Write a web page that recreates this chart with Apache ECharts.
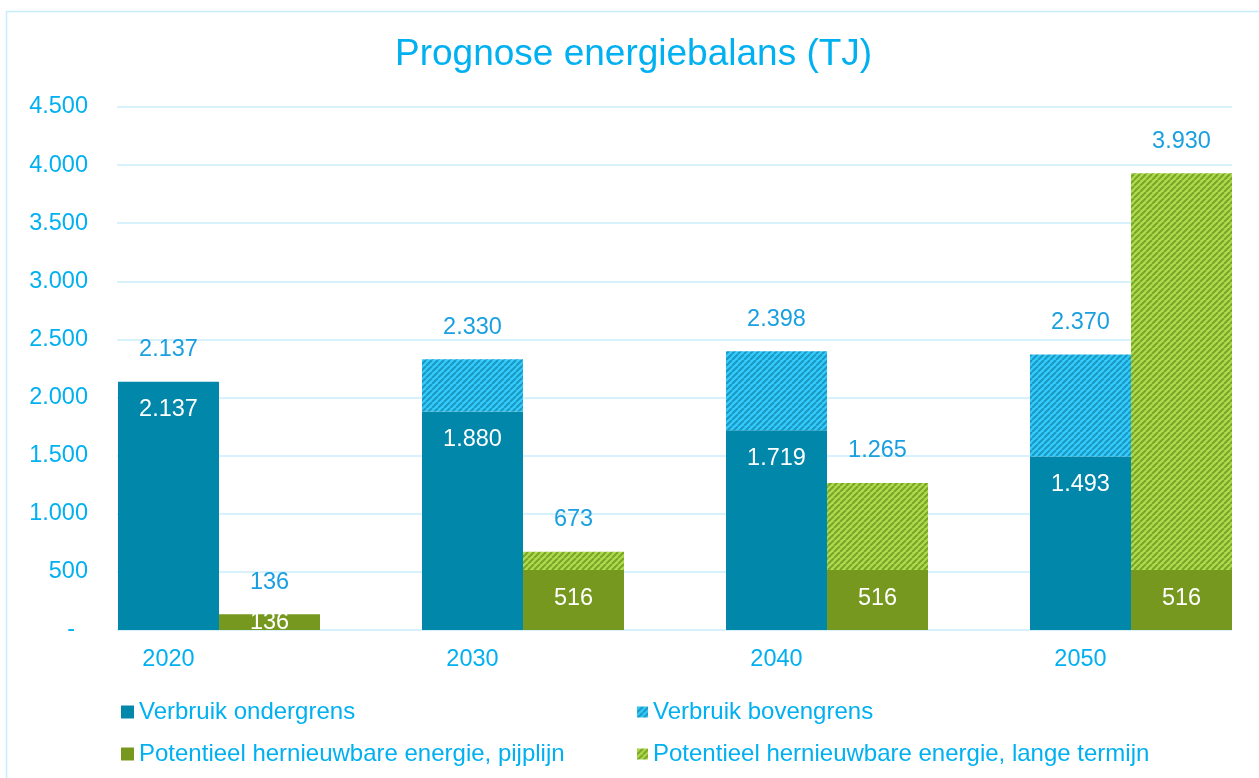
<!DOCTYPE html>
<html>
<head>
<meta charset="utf-8">
<script src="https://cdn.jsdelivr.net/npm/echarts@6/dist/echarts.min.js"></script>
<style>
html,body{margin:0;padding:0;background:#fff;}
#chart{width:1259px;height:778px;}
</style>
</head>
<body>
<div id="chart"></div>
<script>
// ---- data ----
const categories = ['2020', '2030', '2040', '2050'];
const verbruikOndergrens = [2137, 1880, 1719, 1493];
const verbruikBovengrensTotaal = [2137, 2330, 2398, 2370];
const pijplijn = [136, 516, 516, 516];
const langeTermijnTotaal = [136, 673, 1265, 3930];
const yMin = 0, yMax = 4500, yStep = 500;
const seriesNames = [
  'Verbruik ondergrens',
  'Verbruik bovengrens',
  'Potentieel hernieuwbare energie, pijplijn',
  'Potentieel hernieuwbare energie, lange termijn'
];

// ---- helpers ----
const FONT = '"Liberation Sans", Arial, sans-serif';
const TXT = '#00B0F0';
const LBL = '#1A9FE0';
function fmt(v) {
  if (v === 0) return '-';
  return String(v).replace(/\B(?=(\d{3})+(?!\d))/g, '.');
}
function hatch(base, line) {
  const c = document.createElement('canvas');
  c.width = 6; c.height = 6;
  const g = c.getContext('2d');
  g.fillStyle = base; g.fillRect(0, 0, 6, 6);
  g.strokeStyle = line; g.lineWidth = 2;
  for (let x0 = -6; x0 <= 6; x0 += 6) {
    g.beginPath(); g.moveTo(x0, 6); g.lineTo(x0 + 6, 0); g.stroke();
  }
  return { image: c, repeat: 'repeat' };
}
const bovenExtra = verbruikBovengrensTotaal.map((t, i) => t - verbruikOndergrens[i]);
const langeExtra = langeTermijnTotaal.map((t, i) => t - pijplijn[i]);

function insideData(arr) {
  return arr.map(v => v < 300
    ? { value: v, label: { position: 'inside', distance: 0 } }
    : { value: v });
}

const chart = echarts.init(document.getElementById('chart'), null, { renderer: 'canvas' });
const insideLabel = {
  show: true, position: 'insideTop', distance: 16,
  color: '#ffffff', fontFamily: FONT, fontSize: 23.5,
  formatter: p => fmt(p.value)
};
const option = {
  animation: false,
  backgroundColor: '#ffffff',
  textStyle: { fontFamily: FONT },
  graphic: [{
    type: 'rect', z: -10, silent: true,
    shape: { x: 6.5, y: 11.5, width: 1400, height: 900 },
    style: { fill: 'none', stroke: '#C8EDFC', lineWidth: 1.5 }
  }],
  title: {
    text: 'Prognose energiebalans (TJ)',
    left: 390, top: 31,
    textStyle: { color: TXT, fontFamily: FONT, fontSize: 37, fontWeight: 'normal' }
  },
  legend: [{
    data: [seriesNames[0], seriesNames[2]],
    orient: 'vertical', left: 121, top: 700, padding: 0,
    icon: 'rect', itemWidth: 13, itemHeight: 13, itemGap: 18,
    textStyle: { color: TXT, fontFamily: FONT, fontSize: 24, lineHeight: 24 },
    selectedMode: false
  }, {
    data: [seriesNames[1], seriesNames[3]],
    orient: 'vertical', left: 637, top: 700, padding: 0,
    icon: 'rect', itemWidth: 11, itemHeight: 11, itemGap: 18,
    textStyle: { color: TXT, fontFamily: FONT, fontSize: 24, lineHeight: 24 },
    selectedMode: false
  }],
  grid: [
    { left: 117, width: 1115, top: 107, height: 523, outerBoundsMode: 'none' },
    { left: 67, width: 1216, top: 107, height: 523, outerBoundsMode: 'none' }
  ],
  xAxis: [
    { gridIndex: 0, type: 'value', min: 0, max: 1, show: false },
    {
      gridIndex: 1, type: 'category', data: categories,
      axisLine: { show: false }, axisTick: { show: false },
      axisLabel: {
        color: TXT, fontFamily: FONT, fontSize: 23.5, margin: 18,
        padding: [0, 101, 0, 0]
      }
    }
  ],
  yAxis: [
    {
      gridIndex: 0, type: 'value', min: yMin, max: yMax, interval: yStep,
      axisLine: { show: false }, axisTick: { show: false },
      splitLine: { lineStyle: { color: '#CBEEFC', width: 1.5 } },
      axisLabel: {
        color: TXT, fontFamily: FONT, fontSize: 23.5, margin: 29,
        formatter: v => v === 0 ? '{d|-}' : fmt(v),
        rich: { d: { color: TXT, fontFamily: FONT, fontSize: 23.5, padding: [0, 13, 0, 0] } }
      }
    },
    { gridIndex: 1, type: 'value', min: yMin, max: yMax, interval: yStep, show: false }
  ],
  series: [
    {
      name: seriesNames[0], type: 'bar', stack: 'verbruik',
      xAxisIndex: 1, yAxisIndex: 1, barWidth: 101, barGap: '0%',
      data: insideData(verbruikOndergrens),
      itemStyle: { color: '#0087AA' },
      label: insideLabel
    },
    {
      name: seriesNames[1], type: 'bar', stack: 'verbruik',
      xAxisIndex: 1, yAxisIndex: 1, barWidth: 101, barGap: '0%',
      data: bovenExtra,
      itemStyle: { color: hatch('#33CCFF', '#1C97BE') },
      label: {
        show: true, position: 'top', distance: 20,
        color: LBL, fontFamily: FONT, fontSize: 23.5,
        formatter: p => fmt(verbruikBovengrensTotaal[p.dataIndex])
      }
    },
    {
      name: seriesNames[2], type: 'bar', stack: 'hernieuwbaar',
      xAxisIndex: 1, yAxisIndex: 1, barWidth: 101, barGap: '0%',
      data: insideData(pijplijn),
      itemStyle: { color: '#76981E' },
      label: insideLabel
    },
    {
      name: seriesNames[3], type: 'bar', stack: 'hernieuwbaar',
      xAxisIndex: 1, yAxisIndex: 1, barWidth: 101, barGap: '0%',
      data: langeExtra,
      itemStyle: { color: hatch('#AEDC4C', '#7AA32A') },
      label: {
        show: true, position: 'top', distance: 20,
        color: LBL, fontFamily: FONT, fontSize: 23.5,
        formatter: p => fmt(langeTermijnTotaal[p.dataIndex])
      }
    }
  ]
};
chart.setOption(option);
</script>
</body>
</html>
